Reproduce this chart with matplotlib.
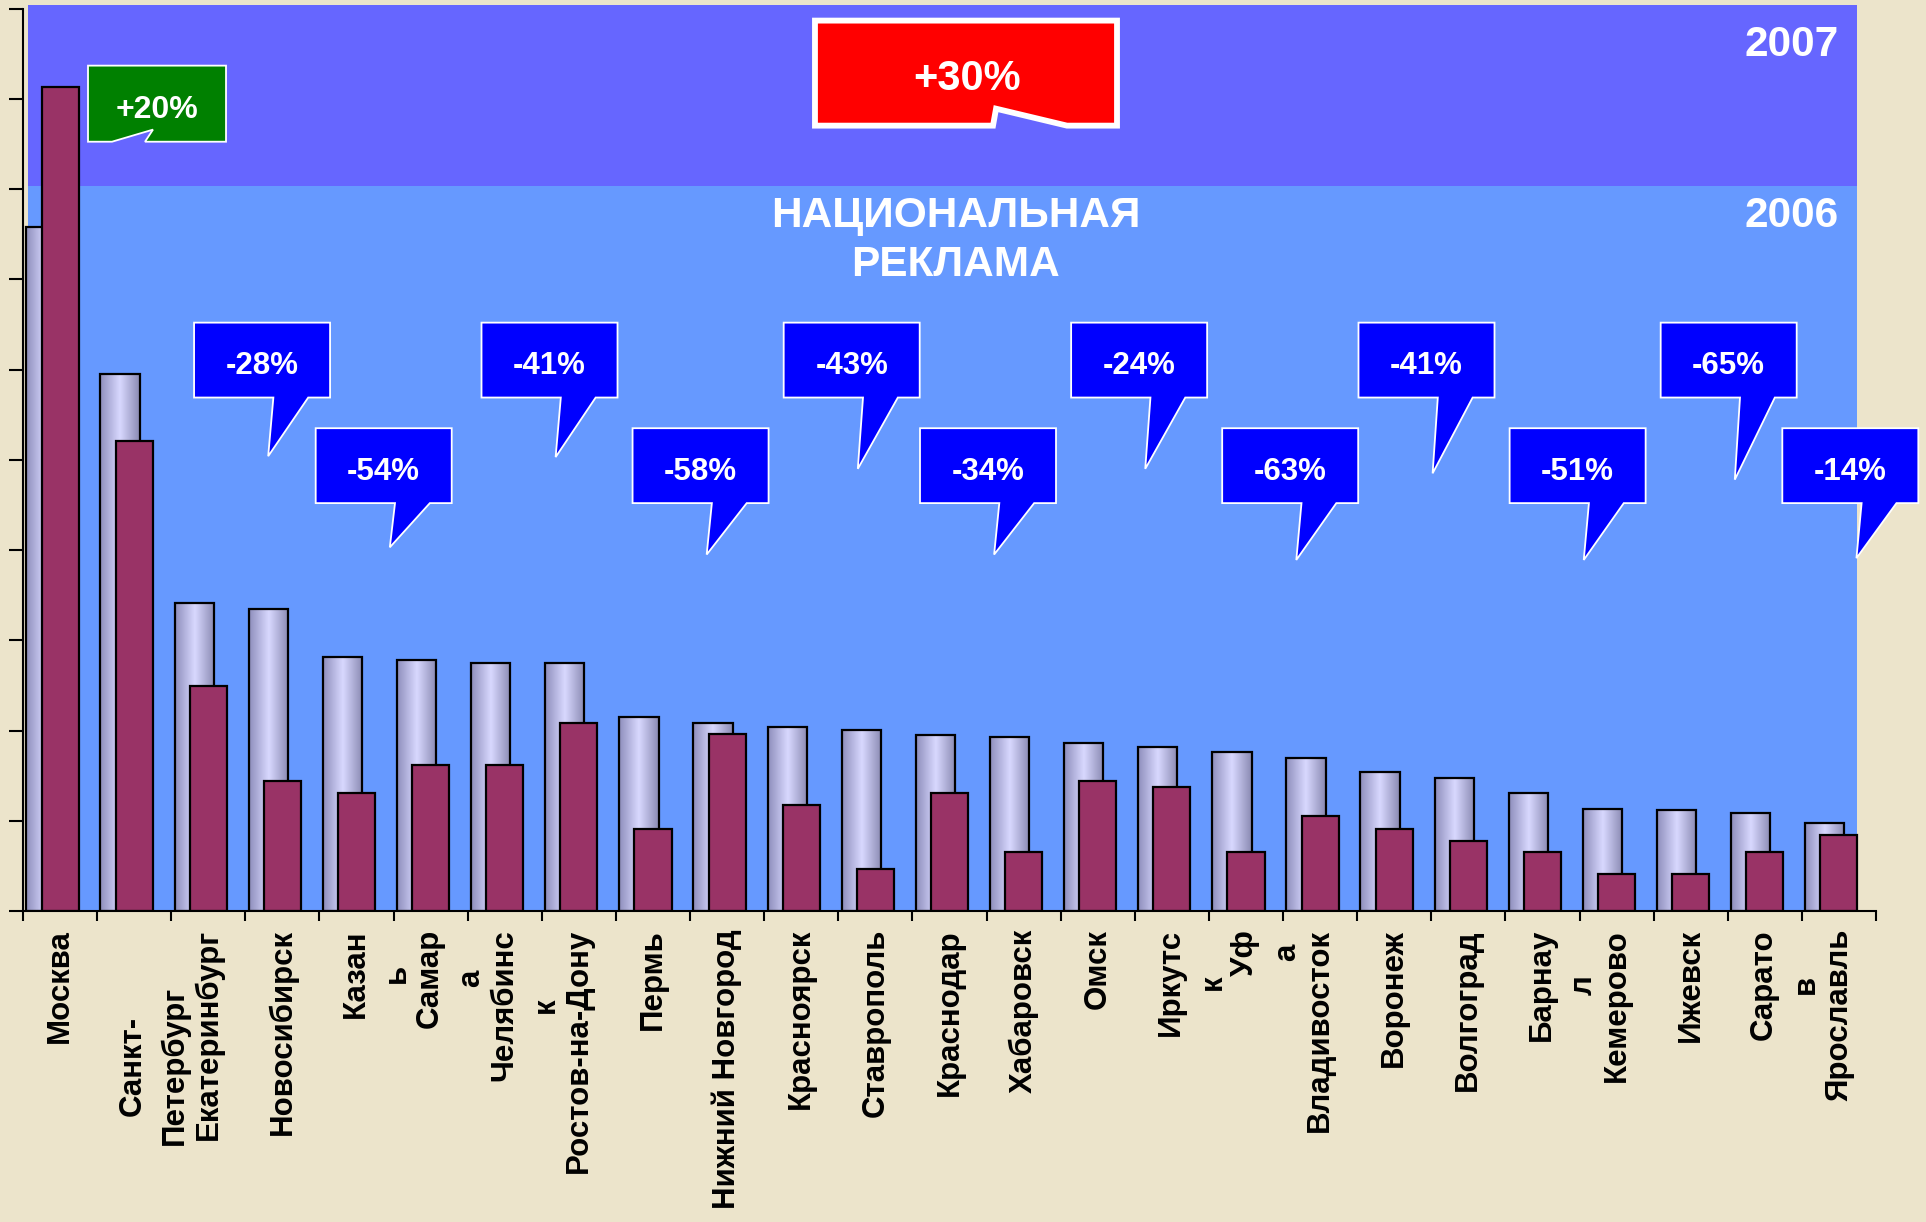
import matplotlib
matplotlib.use('Agg')
import matplotlib.pyplot as plt
import numpy as np
from matplotlib.patches import Polygon
from matplotlib.colors import LinearSegmentedColormap

plt.rcParams['font.family'] = ['Liberation Sans', 'DejaVu Sans']

# ---------------- data ----------------
cities = ["Москва", "Санкт-\nПетербург", "Екатеринбург", "Новосибирск", "Казан\nь",
          "Самар\nа", "Челябинс\nк", "Ростов-на-Дону", "Пермь", "Нижний Новгород",
          "Красноярск", "Ставрополь", "Краснодар", "Хабаровск", "Омск", "Иркутс\nк",
          "Уф\nа", "Владивосток", "Воронеж", "Волгоград", "Барнау\nл", "Кемерово",
          "Ижевск", "Сарато\nв", "Ярославль"]
v2006 = [7.58, 5.95, 3.41, 3.35, 2.82, 2.78, 2.75, 2.75, 2.15, 2.08, 2.04, 2.01, 1.95,
         1.93, 1.86, 1.82, 1.76, 1.69, 1.54, 1.47, 1.31, 1.13, 1.12, 1.09, 0.98]
v2007 = [9.13, 5.21, 2.49, 1.44, 1.31, 1.62, 1.62, 2.08, 0.91, 1.96, 1.18, 0.46, 1.31,
         0.65, 1.44, 1.37, 0.65, 1.05, 0.91, 0.78, 0.65, 0.41, 0.41, 0.65, 0.84]
drop_labels = ["-28%", "-54%", "-41%", "-58%", "-43%", "-34%", "-24%", "-63%",
               "-41%", "-51%", "-65%", "-14%"]
total_label = "+30%"
moscow_label = "+20%"
title_text = "НАЦИОНАЛЬНАЯ\nРЕКЛАМА"
year_labels = ["2007", "2006"]

# ---------------- layout (annotation positions, data units) ----------------
callout_x0 = [1.808, 3.449, 5.686, 7.724, 9.763, 11.602, 13.641, 15.679, 17.518,
              19.557, 21.595, 23.236]
callout_row = [0, 1, 0, 1, 0, 1, 0, 1, 0, 1, 0, 1]
callout_tip_y = [5.04, 4.03, 5.03, 3.95, 4.90, 3.95, 4.90, 3.89, 4.85, 3.89, 4.78, 3.91]
row_top = [6.52, 5.35]
row_bot = [5.69, 4.52]
box_w = 1.835

BEIGE = '#ECE4CB'
BAND_LOW = '#6699FF'
BAND_HIGH = '#6666FF'
DARK = '#993366'

fig = plt.figure(figsize=(19.26, 12.22), dpi=100, facecolor=BEIGE)
ax = fig.add_axes([23 / 1926, 1 - 911 / 1222, (1876 - 23) / 1926, (911 - 8.6) / 1222])
ax.set_facecolor('none')

n = len(cities)
x = np.arange(n)

# background bands
ax.add_patch(plt.Rectangle((-0.433, 0), 24.25 + 0.433, 8.03, facecolor=BAND_LOW,
                           edgecolor='none', zorder=0, clip_on=False))
ax.add_patch(plt.Rectangle((-0.433, 8.03), 24.25 + 0.433, 10.04 - 8.03, facecolor=BAND_HIGH,
                           edgecolor='none', zorder=0, clip_on=False))

# 2006 bars with gradient
cmap = LinearSegmentedColormap.from_list(
    'lav', [(0.0, (0.56, 0.56, 0.74)), (0.5, (0.85, 0.85, 1.0)), (1.0, (0.54, 0.54, 0.70))])
grad = np.linspace(0, 1, 64).reshape(1, -1)
bars06 = ax.bar(x - 0.19, v2006, width=0.53, facecolor='none', edgecolor='black',
                linewidth=1.6, zorder=3)
for b in bars06:
    bx, by, bw, bh = b.get_x(), b.get_y(), b.get_width(), b.get_height()
    im = ax.imshow(grad, extent=(bx, bx + bw, by, by + bh), cmap=cmap, aspect='auto',
                   zorder=2, interpolation='bicubic')
    im.set_clip_path(b)

# 2007 bars
ax.bar(x + 0.0, v2007, width=0.5, color=DARK, edgecolor='black', linewidth=1.6, zorder=4)

ax.set_xlim(-0.5, n - 0.5)
ax.set_ylim(0, 10)

# axes styling
for s in ['top', 'right']:
    ax.spines[s].set_visible(False)
for s in ['left', 'bottom']:
    ax.spines[s].set_linewidth(1.5)
    ax.spines[s].set_zorder(6)
ax.set_xticks(np.arange(-0.5, n, 1.0))
ax.set_yticks(np.arange(0, 11, 1))
ax.tick_params(axis='x', direction='out', length=7, width=1.5, labelbottom=False)
ax.tick_params(axis='y', direction='out', length=10, width=1.5, labelleft=False)

# category labels
for i, lab in enumerate(cities):
    nl = lab.count('\n') + 1
    extra = 41 if i == 1 else 0
    ax.annotate(lab, xy=(i, 0), xycoords=ax.get_xaxis_transform(),
                xytext=((nl - 1) * 14.4, -13 - extra), textcoords='offset points',
                rotation=90, ha='center', va='top', multialignment='center',
                linespacing=1.5, fontsize=22.5, fontweight='bold', color='black',
                annotation_clip=False)

# blue drop callouts
for lab, x0, r, ty in zip(drop_labels, callout_x0, callout_row, callout_tip_y):
    top, bot = row_top[r], row_bot[r]
    pts = [(x0, top), (x0 + box_w, top), (x0 + box_w, bot), (x0 + 1.54, bot),
           (x0 + 1.0, ty), (x0 + 1.07, bot), (x0, bot)]
    ax.add_patch(Polygon(pts, closed=True, facecolor='#0000FF', edgecolor='white',
                         linewidth=1.3, zorder=7, clip_on=False))
    ax.text(x0 + box_w / 2, (top + bot) / 2 - 0.065, lab, ha='center', va='center',
            fontsize=22.5, fontweight='bold', color='white', zorder=8, clip_on=False)

# green +20% callout
g_pts = [(0.377, 9.368), (2.239, 9.368), (2.239, 8.525), (1.146, 8.525), (1.254, 8.659),
         (0.701, 8.525), (0.377, 8.525)]
ax.add_patch(Polygon(g_pts, closed=True, facecolor='#008000', edgecolor='white',
                     linewidth=1.3, zorder=7))
ax.text(1.308, 8.88, moscow_label, ha='center', va='center', fontsize=23,
        fontweight='bold', color='white', zorder=8)

# red +30% callout
r_pts = [(10.185, 9.867), (14.26, 9.867), (14.26, 8.703), (13.585, 8.703), (12.628, 8.891),
         (12.587, 8.703), (10.185, 8.703)]
ax.add_patch(Polygon(r_pts, closed=True, facecolor='#FF0000', edgecolor='white',
                     linewidth=4.2, zorder=7, joinstyle='miter'))
ax.text(12.236, 9.22, total_label, ha='center', va='center', fontsize=30,
        fontweight='bold', color='white', zorder=8)

# titles
ax.text(12.08, 7.43, title_text, ha='center', va='center', fontsize=30.5,
        fontweight='bold', color='white', linespacing=1.3, zorder=8)
ax.text(24.0, 9.6, year_labels[0], ha='right', va='center', fontsize=30.5,
        fontweight='bold', color='white', zorder=8)
ax.text(24.0, 7.7, year_labels[1], ha='right', va='center', fontsize=30.5,
        fontweight='bold', color='white', zorder=8)

fig.savefig('out.png', dpi=100, facecolor=fig.get_facecolor())
